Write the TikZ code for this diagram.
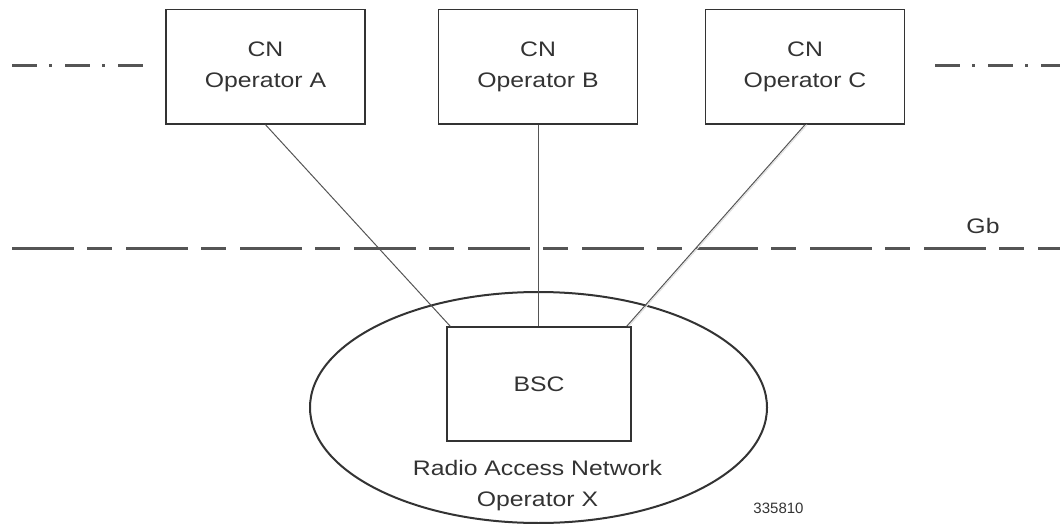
\documentclass[tikz,border=0pt]{standalone}
\usepackage{fontspec}
\setmainfont{Liberation Sans}[FakeStretch=1.18]
\newfontfamily\plainsans{Liberation Sans}
\usetikzlibrary{shapes.geometric,calc}
\definecolor{ink}{HTML}{333333}
\definecolor{linegray}{HTML}{555555}
\definecolor{conngray}{HTML}{555555}
\begin{document}
\begin{tikzpicture}[x=1pt,y=-1pt,
  txt/.style={font=\fontsize{21}{31}\selectfont, text=ink, align=center},
  cnbox/.style={draw=ink, line width=1.4pt, minimum width=199pt, minimum height=114.5pt, inner sep=0pt, txt},
  bscbox/.style={draw=ink, line width=1.4pt, minimum width=184pt, minimum height=114pt, inner sep=0pt, txt},
  ranshape/.style={draw=ink, line width=2pt, ellipse, minimum width=457pt, minimum height=231pt, inner sep=0pt},
  conn/.style={draw=conngray, line width=1pt},
  gbline/.style={draw=linegray, line width=3pt, dash pattern=on 62pt off 13pt on 25pt off 14pt},
  ddline/.style={draw=linegray, line width=3pt, dash pattern=on 25pt off 12pt on 3pt off 13pt}
]
\useasboundingbox (0,0) rectangle (1060,524);

% separator lines
\coordinate (ddL1) at (12,66);
\coordinate (ddL2) at (143,66);
\coordinate (ddR1) at (935,66);
\coordinate (ddR2) at (1060,66);
\draw[ddline] (ddL1) -- (ddL2);
\draw[ddline] (ddR1) -- (ddR2);
\coordinate (gb1) at (12,248);
\coordinate (gb2) at (1060,248);
\draw[gbline] (gb1) -- (gb2);
\node[txt, anchor=base] (gblabel) at (983,233) {Gb};

% RAN ellipse
\node[ranshape] (ran) at (538.5,407.5) {};
\node[txt] (ranlabel) at (537.5,485.1) {Radio Access Network\\Operator X};
\node[font=\plainsans\fontsize{15}{18}\selectfont, text=ink, anchor=base] (fignum) at (778.5,513) {335810};

% boxes
\node[cnbox] (opA) at (265.5,66.75) {CN\\Operator A};
\node[cnbox] (opB) at (538,66.75) {CN\\Operator B};
\node[cnbox] (opC) at (805,66.75) {CN\\Operator C};
\node[bscbox] (bsc) at (539,384) {BSC};

% connectors
\draw[conn] (opA.south) -- ($(bsc.north west)+(4,0)$);
\draw[conn] (opB.south) -- (opB.south |- bsc.north);
\draw[draw=black!12, line width=1pt] ($(opC.south)+(2,0)$) -- ($(bsc.north east)+(-3,0)$);
\draw[conn] (opC.south) -- ($(bsc.north east)+(-5,0)$);
\end{tikzpicture}
\end{document}
